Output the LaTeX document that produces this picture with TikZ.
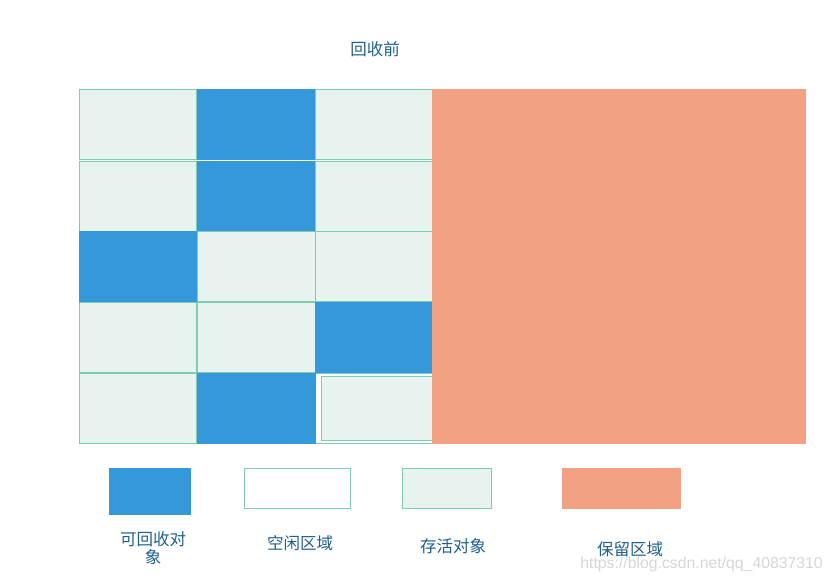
\documentclass[tikz,border=0pt]{standalone}
\usepackage{fontspec}
\newfontfamily\cjk{Noto Sans CJK SC}
\setmainfont{Liberation Sans}
\definecolor{cellline}{HTML}{7DCBB0}
\definecolor{palefill}{HTML}{E6F3EF}
\definecolor{bluefill}{HTML}{3598DB}
\definecolor{orangefill}{HTML}{F2A283}
\definecolor{labeltext}{HTML}{1E5F8C}
\definecolor{wmark}{HTML}{D6D6D6}
\tikzset{
  live/.style={fill=palefill,draw=cellline,line width=1pt},
  gone/.style={fill=bluefill},
  freebox/.style={fill=white,draw=cellline,line width=1pt},
  keep/.style={fill=orangefill},
  lbl/.style={text=labeltext,font=\cjk\fontsize{16.5}{19}\selectfont,inner sep=0pt,anchor=center},
}
\begin{document}
\begin{tikzpicture}[x=1pt,y=-1pt]
\useasboundingbox (0,0) rectangle (833,582);
% title
\node[lbl] (title) at (375,49) {回收前};
% row 1
\path[live] (79.5,89.5) rectangle (196.5,159.5);
\path[gone] (196.5,89) rectangle (315.5,160);
\path[live] (315.5,89.5) rectangle (432,159.5);
% row 2
\path[live] (79.5,161) rectangle (196.5,231);
\path[gone] (196.5,161) rectangle (315.5,231);
\path[live] (315.5,161) rectangle (432,231);
% row 3
\path[live] (197,231.5) rectangle (315.5,301.5);
\path[live] (315.5,231.5) rectangle (432,301.5);
\path[gone] (79,231) rectangle (196.5,302);
% row 4
\path[live] (79.5,302) rectangle (196.5,372.5);
\path[live] (197,302) rectangle (315.5,372.5);
\path[gone] (315,302) rectangle (432,373);
% row 5
\path[live] (79.5,373) rectangle (196.5,443);
\path[freebox] (315.5,373) rectangle (432,443);
\path[gone] (196.5,373) rectangle (315.5,443.5);
\path[live] (321,376) rectangle (432,440.5);
% reserved area
\path[keep] (432,89) rectangle (806,443.5);
% legend
\path[gone] (109,468) rectangle (191,515);
\path[freebox] (244.5,468.5) rectangle (350.5,508);
\path[live] (402.5,468.5) rectangle (491.5,508);
\path[keep] (562,468) rectangle (681,509);
\node[lbl] (l1a) at (153,539) {可回收对};
\node[lbl] (l1b) at (153,557) {象};
\node[lbl] (l2) at (300,543) {空闲区域};
\node[lbl] (l3) at (453,546) {存活对象};
\node[lbl] (l4) at (630,549) {保留区域};
\node[text=wmark,font=\fontsize{15.8}{18}\selectfont,inner sep=0pt,anchor=east] (wm) at (823,564) {https://blog.csdn.net/qq\_40837310};
\end{tikzpicture}
\end{document}
